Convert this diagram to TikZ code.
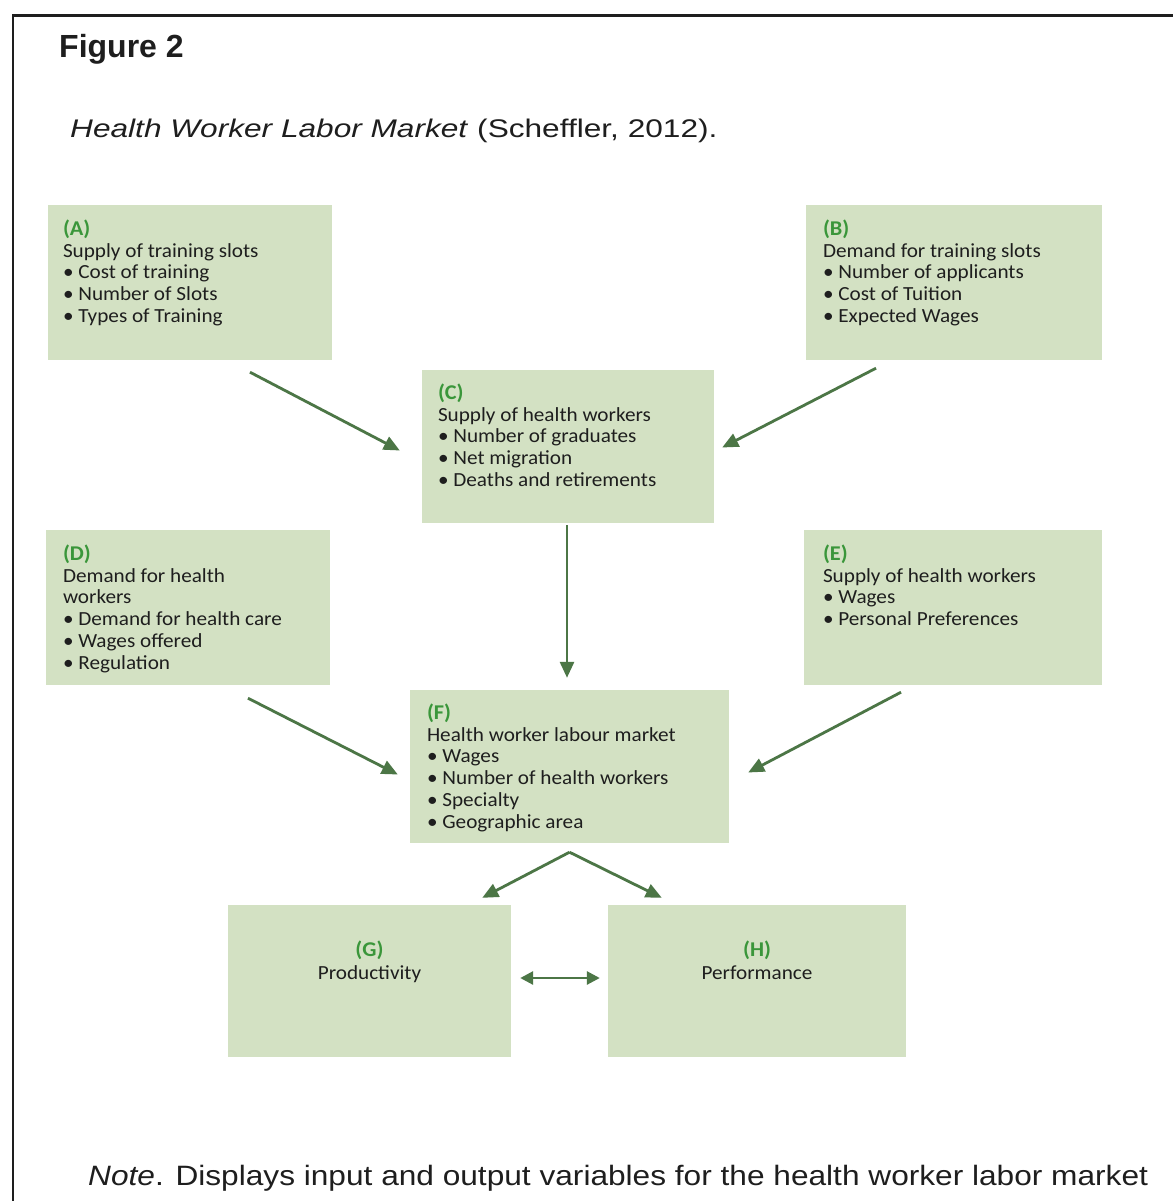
\documentclass[tikz,border=0pt]{standalone}
\usepackage{fontspec}
\setmainfont{Liberation Sans}
\newfontfamily\boxfont[FakeStretch=1.06]{Carlito}
\newfontfamily\capfont[FakeStretch=1.24]{Liberation Sans}
\newfontfamily\notefont[FakeStretch=1.13]{Liberation Sans}
\usetikzlibrary{arrows.meta}

\definecolor{boxfill}{RGB}{211,225,195}
\definecolor{labgreen}{RGB}{58,150,58}
\definecolor{arrowgreen}{RGB}{76,118,70}
\definecolor{inkgrey}{RGB}{30,30,30}
\definecolor{framegrey}{RGB}{30,30,30}

\tikzset{
  panel/.style 2 args={fill=boxfill, draw=none, inner sep=0pt,
    minimum width=#1, minimum height=#2},
  paneltext/.style={anchor=north west, inner sep=0pt, align=left,
    text=inkgrey, font=\boxfont\fontsize{20}{21.7}\selectfont},
  centretext/.style={anchor=north, inner sep=0pt, align=center,
    text=inkgrey, font=\boxfont\fontsize{20}{23}\selectfont},
  flow/.style={draw=arrowgreen, line width=2.8pt,
    -{Triangle[length=16pt,width=14pt]}},
  flowboth/.style={draw=arrowgreen, line width=2.8pt,
    {Triangle[length=13pt,width=13pt]}-{Triangle[length=13pt,width=13pt]}},
}
\newcommand{\lab}[1]{\textcolor{labgreen}{\fontsize{21}{21.7}\selectfont\bfseries #1}}
\newcommand{\itm}{\textbullet\ }

\begin{document}
\begin{tikzpicture}[x=1pt,y=-1pt]
% page extent
\useasboundingbox (0,0) rectangle (1173,1201);
\fill[white] (0,0) rectangle (1173,1201);

% open frame: top and left rules
\draw[framegrey, line width=2.4pt] (13,1201) -- (13,15.5) -- (1173,15.5);

% headings
\node[anchor=base west, inner sep=0pt, font=\bfseries\fontsize{32}{36}\selectfont, text=inkgrey]
  (fig) at (59,58) {Figure 2};
\node[anchor=base west, inner sep=0pt, font=\capfont\fontsize{25.5}{30}\selectfont, text=inkgrey]
  (cap) at (70,138) {\textit{Health Worker Labor Market} (Scheffler, 2012).};

% panels
\node[panel={284pt}{155pt}] (A) at (190,282.5) {};
\node[panel={296pt}{155pt}] (B) at (954,282.5) {};
\node[panel={292pt}{153pt}] (C) at (568,446.5) {};
\node[panel={284pt}{155pt}] (D) at (188,607.5) {};
\node[panel={298pt}{155pt}] (E) at (953,607.5) {};
\node[panel={319pt}{153pt}] (F) at (569.5,766.5) {};
\node[panel={283pt}{152pt}] (G) at (369.5,981) {};
\node[panel={298pt}{152pt}] (H) at (757,981) {};

% panel texts
\node[paneltext] (At) at ([xshift=15pt,yshift=-15pt]A.north west)
  {\lab{(A)}\\Supply of training slots\\\itm Cost of training\\\itm Number of Slots\\\itm Types of Training};
\node[paneltext] (Bt) at ([xshift=17pt,yshift=-15pt]B.north west)
  {\lab{(B)}\\Demand for training slots\\\itm Number of applicants\\\itm Cost of Tuition\\\itm Expected Wages};
\node[paneltext] (Ct) at ([xshift=16pt,yshift=-14pt]C.north west)
  {\lab{(C)}\\Supply of health workers\\\itm Number of graduates\\\itm Net migration\\\itm Deaths and retirements};
\node[paneltext] (Dt) at ([xshift=17pt,yshift=-15pt]D.north west)
  {\lab{(D)}\\Demand for health\\workers\\\itm Demand for health care\\\itm Wages offered\\\itm Regulation};
\node[paneltext] (Et) at ([xshift=19pt,yshift=-15pt]E.north west)
  {\lab{(E)}\\Supply of health workers\\\itm Wages\\\itm Personal Preferences};
\node[paneltext] (Ft) at ([xshift=17pt,yshift=-14pt]F.north west)
  {\lab{(F)}\\Health worker labour market\\\itm Wages\\\itm Number of health workers\\\itm Specialty\\\itm Geographic area};
\node[centretext] (Gt) at ([yshift=-36pt]G.north)
  {\lab{(G)}\\Productivity};
\node[centretext] (Ht) at ([yshift=-36pt]H.north)
  {\lab{(H)}\\Performance};

% connectors
\draw[flow] ([xshift=60pt,yshift=-12pt]A.south) -- ([xshift=-22pt,yshift=-4pt]C.west);
\draw[flow] ([xshift=-78pt,yshift=-8pt]B.south) -- ([xshift=8pt,yshift=-1pt]C.east);
\draw[flow] ([xshift=-1pt,yshift=-2pt]C.south) -- ([xshift=-2.5pt,yshift=12pt]F.north);
\draw[flow] ([xshift=60pt,yshift=-13pt]D.south) -- ([xshift=-12pt,yshift=-8pt]F.west);
\draw[flow] ([xshift=-52pt,yshift=-7pt]E.south) -- ([xshift=19pt,yshift=-6pt]F.east);
\coordinate (split) at ([yshift=-9pt]F.south);
\draw[flow] (split) -- ([xshift=-29pt,yshift=7pt]G.north east);
\draw[flow] (split) -- ([xshift=54pt,yshift=7pt]H.north west);
\draw[flowboth] ([xshift=9pt,yshift=3pt]G.east) -- ([xshift=-8pt,yshift=3pt]H.west);

% note
\node[anchor=base west, inner sep=0pt, font=\notefont\fontsize{28}{32}\selectfont, text=inkgrey]
  (note) at (88,1185) {\textit{Note}. Displays input and output variables for the health worker labor market};
\end{tikzpicture}
\end{document}
